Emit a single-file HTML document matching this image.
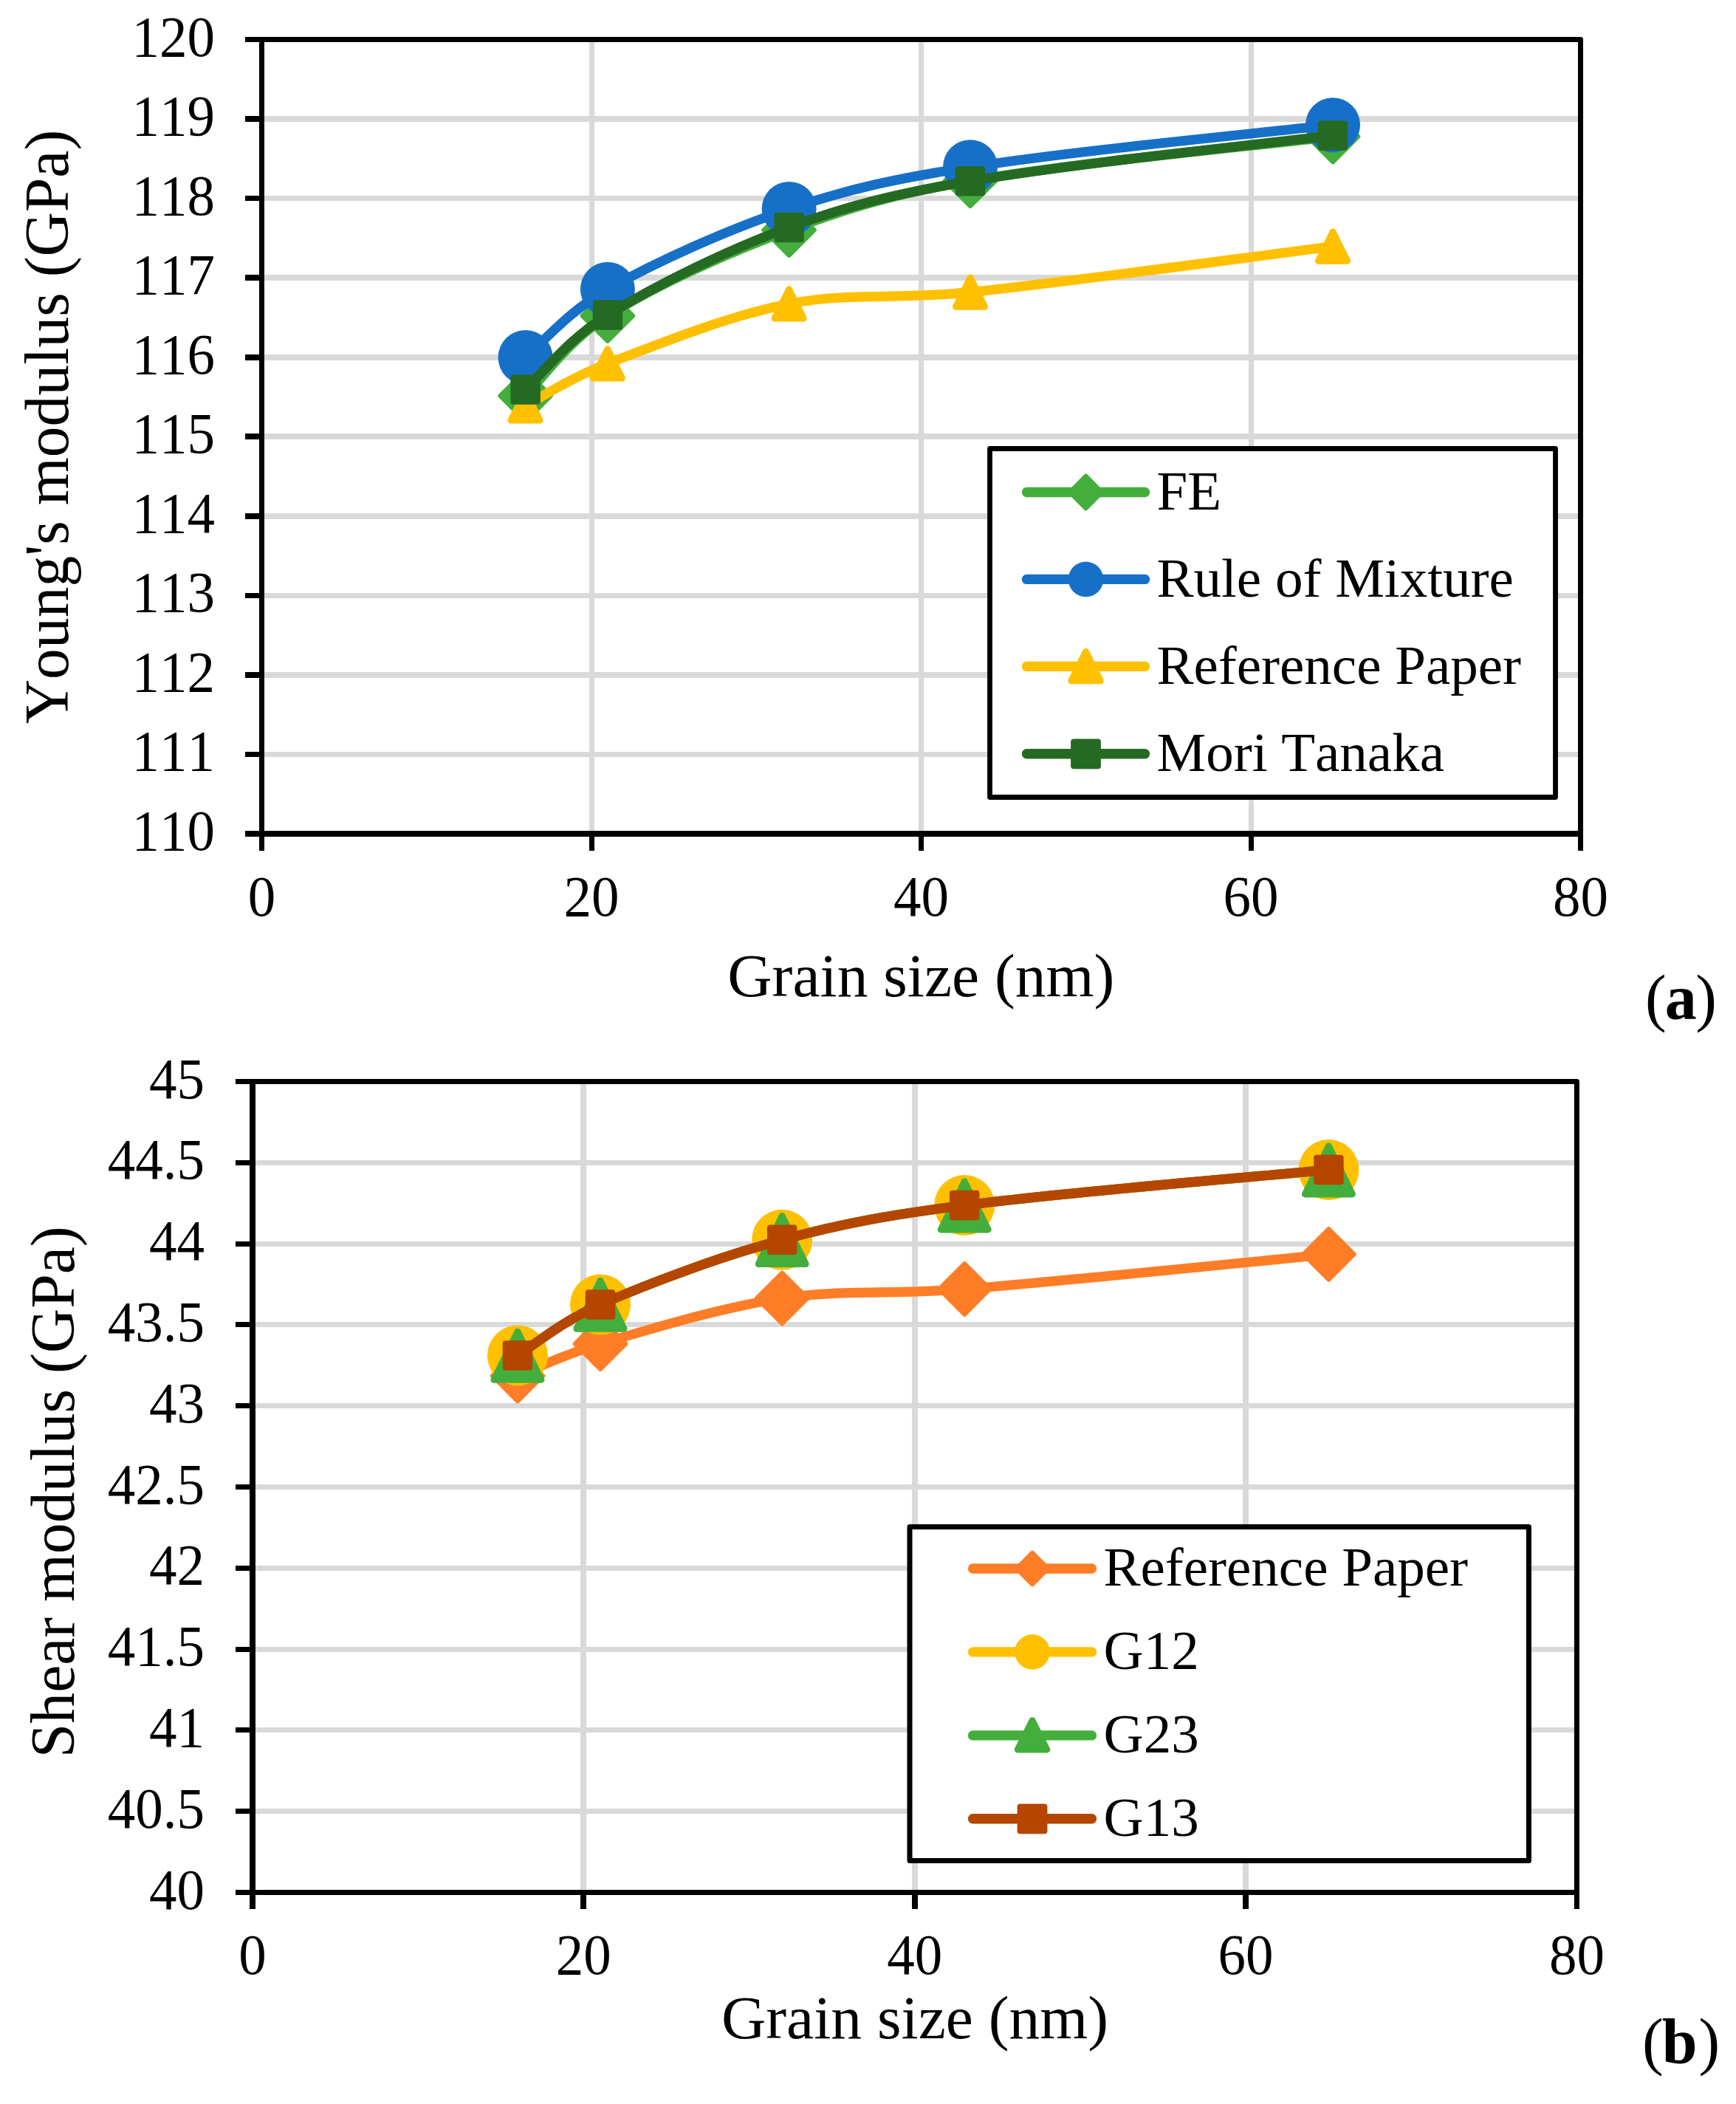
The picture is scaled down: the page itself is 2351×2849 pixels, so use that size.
<!DOCTYPE html>
<html lang="en">
<head>
<meta charset="utf-8">
<title>Elastic moduli vs grain size</title>
<style>
html,body{margin:0;padding:0;background:#fff;}
body{width:2351px;height:2849px;overflow:hidden;}
svg{display:block;}
svg text{font-family:'Liberation Serif', 'Times New Roman', serif;fill:#000;font-kerning:none;font-variant-ligatures:none;}
</style>
</head>
<body>
<svg width="2351" height="2849" viewBox="0 0 2351 2849">
<rect width="2351" height="2849" fill="#fff"/>
<!-- chart (a) -->
<g stroke="#D9D9D9" shape-rendering="crispEdges">
<line x1="354.50" y1="161.05" x2="2140.50" y2="161.05" stroke-width="7.60"/>
<line x1="354.50" y1="268.60" x2="2140.50" y2="268.60" stroke-width="7.60"/>
<line x1="354.50" y1="376.15" x2="2140.50" y2="376.15" stroke-width="7.60"/>
<line x1="354.50" y1="483.70" x2="2140.50" y2="483.70" stroke-width="7.60"/>
<line x1="354.50" y1="591.25" x2="2140.50" y2="591.25" stroke-width="7.60"/>
<line x1="354.50" y1="698.80" x2="2140.50" y2="698.80" stroke-width="7.60"/>
<line x1="354.50" y1="806.35" x2="2140.50" y2="806.35" stroke-width="7.60"/>
<line x1="354.50" y1="913.90" x2="2140.50" y2="913.90" stroke-width="7.60"/>
<line x1="354.50" y1="1021.45" x2="2140.50" y2="1021.45" stroke-width="7.60"/>
<line x1="801.00" y1="53.50" x2="801.00" y2="1129.00" stroke-width="7.00"/>
<line x1="1247.50" y1="53.50" x2="1247.50" y2="1129.00" stroke-width="7.00"/>
<line x1="1694.00" y1="53.50" x2="1694.00" y2="1129.00" stroke-width="7.00"/>
</g>
<g stroke="#000" shape-rendering="crispEdges">
<polyline points="351.00,53.50 2140.50,53.50 2140.50,1152.00" fill="none" stroke-width="7.00" stroke-linejoin="round" shape-rendering="geometricPrecision"/>
<line x1="354.50" y1="53.50" x2="354.50" y2="1152.00" stroke-width="7.00"/>
<line x1="332.00" y1="1129.00" x2="2140.50" y2="1129.00" stroke-width="8.00"/>
<line x1="332.00" y1="53.50" x2="354.50" y2="53.50" stroke-width="7.00"/>
<line x1="332.00" y1="161.05" x2="354.50" y2="161.05" stroke-width="7.60"/>
<line x1="332.00" y1="268.60" x2="354.50" y2="268.60" stroke-width="7.60"/>
<line x1="332.00" y1="376.15" x2="354.50" y2="376.15" stroke-width="7.60"/>
<line x1="332.00" y1="483.70" x2="354.50" y2="483.70" stroke-width="7.60"/>
<line x1="332.00" y1="591.25" x2="354.50" y2="591.25" stroke-width="7.60"/>
<line x1="332.00" y1="698.80" x2="354.50" y2="698.80" stroke-width="7.60"/>
<line x1="332.00" y1="806.35" x2="354.50" y2="806.35" stroke-width="7.60"/>
<line x1="332.00" y1="913.90" x2="354.50" y2="913.90" stroke-width="7.60"/>
<line x1="332.00" y1="1021.45" x2="354.50" y2="1021.45" stroke-width="7.60"/>
<line x1="801.00" y1="1129.00" x2="801.00" y2="1152.00" stroke-width="7.00"/>
<line x1="1247.50" y1="1129.00" x2="1247.50" y2="1152.00" stroke-width="7.00"/>
<line x1="1694.00" y1="1129.00" x2="1694.00" y2="1152.00" stroke-width="7.00"/>
</g>
<g>
<path d="M711.60 536.00 C740.24 505.19 772.15 459.51 822.90 427.60 C890.02 385.39 985.40 342.47 1068.60 311.50 C1149.08 281.54 1212.86 262.17 1314.00 244.80 C1455.06 220.57 1664.84 200.89 1805.00 185.00" fill="none" stroke="#44AE3C" stroke-width="13.2" stroke-linecap="round" stroke-linejoin="round"/>
<polygon points="711.60,501.70 745.90,536.00 711.60,570.30 677.30,536.00" fill="#44AE3C" stroke="#44AE3C" stroke-width="6.0" stroke-linejoin="round"/>
<polygon points="822.90,393.30 857.20,427.60 822.90,461.90 788.60,427.60" fill="#44AE3C" stroke="#44AE3C" stroke-width="6.0" stroke-linejoin="round"/>
<polygon points="1068.60,277.20 1102.90,311.50 1068.60,345.80 1034.30,311.50" fill="#44AE3C" stroke="#44AE3C" stroke-width="6.0" stroke-linejoin="round"/>
<polygon points="1314.00,210.50 1348.30,244.80 1314.00,279.10 1279.70,244.80" fill="#44AE3C" stroke="#44AE3C" stroke-width="6.0" stroke-linejoin="round"/>
<polygon points="1805.00,150.70 1839.30,185.00 1805.00,219.30 1770.70,185.00" fill="#44AE3C" stroke="#44AE3C" stroke-width="6.0" stroke-linejoin="round"/>
<path d="M711.60 484.00 C740.40 457.90 773.13 419.72 822.90 391.70 C890.75 353.50 985.44 311.02 1068.60 283.00 C1149.12 255.86 1213.15 241.78 1314.00 226.20 C1455.27 204.37 1664.88 184.56 1805.00 169.20" fill="none" stroke="#1770C8" stroke-width="13.2" stroke-linecap="round" stroke-linejoin="round"/>
<circle cx="711.60" cy="484.00" r="37.00" fill="#1770C8"/>
<circle cx="822.90" cy="391.70" r="37.00" fill="#1770C8"/>
<circle cx="1068.60" cy="283.00" r="37.00" fill="#1770C8"/>
<circle cx="1314.00" cy="226.20" r="37.00" fill="#1770C8"/>
<circle cx="1805.00" cy="169.20" r="37.00" fill="#1770C8"/>
<path d="M711.60 549.40 C740.69 533.49 774.87 510.97 822.90 492.40 C891.99 465.69 985.72 427.74 1068.60 411.40 C1149.41 395.47 1214.00 406.17 1314.00 395.60 C1455.87 380.61 1664.98 351.77 1805.00 333.60" fill="none" stroke="#FFC000" stroke-width="13.2" stroke-linecap="round" stroke-linejoin="round"/>
<polygon points="711.60,529.70 731.10,569.10 692.10,569.10" fill="#FFC000" stroke="#FFC000" stroke-width="9.0" stroke-linejoin="round"/>
<polygon points="822.90,472.70 842.40,512.10 803.40,512.10" fill="#FFC000" stroke="#FFC000" stroke-width="9.0" stroke-linejoin="round"/>
<polygon points="1068.60,391.70 1088.10,431.10 1049.10,431.10" fill="#FFC000" stroke="#FFC000" stroke-width="9.0" stroke-linejoin="round"/>
<polygon points="1314.00,375.90 1333.50,415.30 1294.50,415.30" fill="#FFC000" stroke="#FFC000" stroke-width="9.0" stroke-linejoin="round"/>
<polygon points="1805.00,313.90 1824.50,353.30 1785.50,353.30" fill="#FFC000" stroke="#FFC000" stroke-width="9.0" stroke-linejoin="round"/>
<path d="M711.60 527.40 C740.34 498.91 772.76 457.33 822.90 426.50 C890.47 384.95 985.24 338.66 1068.60 307.90 C1148.91 278.27 1213.01 262.36 1314.00 245.30 C1455.17 221.45 1664.86 200.13 1805.00 183.50" fill="none" stroke="#256A23" stroke-width="13.2" stroke-linecap="round" stroke-linejoin="round"/>
<rect x="691.35" y="507.15" width="40.50" height="40.50" rx="4.0" fill="#256A23"/>
<rect x="802.65" y="406.25" width="40.50" height="40.50" rx="4.0" fill="#256A23"/>
<rect x="1048.35" y="287.65" width="40.50" height="40.50" rx="4.0" fill="#256A23"/>
<rect x="1293.75" y="225.05" width="40.50" height="40.50" rx="4.0" fill="#256A23"/>
<rect x="1784.75" y="163.25" width="40.50" height="40.50" rx="4.0" fill="#256A23"/>
</g>
<g>
<text transform="translate(291.00 75.50) scale(1 1.045)" font-size="75.00" text-anchor="end" >120</text>
<text transform="translate(291.00 183.05) scale(1 1.045)" font-size="75.00" text-anchor="end" >119</text>
<text transform="translate(291.00 290.60) scale(1 1.045)" font-size="75.00" text-anchor="end" >118</text>
<text transform="translate(291.00 398.15) scale(1 1.045)" font-size="75.00" text-anchor="end" >117</text>
<text transform="translate(291.00 505.70) scale(1 1.045)" font-size="75.00" text-anchor="end" >116</text>
<text transform="translate(291.00 613.25) scale(1 1.045)" font-size="75.00" text-anchor="end" >115</text>
<text transform="translate(291.00 720.80) scale(1 1.045)" font-size="75.00" text-anchor="end" >114</text>
<text transform="translate(291.00 828.35) scale(1 1.045)" font-size="75.00" text-anchor="end" >113</text>
<text transform="translate(291.00 935.90) scale(1 1.045)" font-size="75.00" text-anchor="end" >112</text>
<text transform="translate(291.00 1043.45) scale(1 1.045)" font-size="75.00" text-anchor="end" >111</text>
<text transform="translate(291.00 1151.00) scale(1 1.045)" font-size="75.00" text-anchor="end" >110</text>
<text transform="translate(354.50 1239.70) scale(1 1.045)" font-size="75.00" text-anchor="middle" >0</text>
<text transform="translate(801.00 1239.70) scale(1 1.045)" font-size="75.00" text-anchor="middle" >20</text>
<text transform="translate(1247.50 1239.70) scale(1 1.045)" font-size="75.00" text-anchor="middle" >40</text>
<text transform="translate(1694.00 1239.70) scale(1 1.045)" font-size="75.00" text-anchor="middle" >60</text>
<text transform="translate(2140.50 1239.70) scale(1 1.045)" font-size="75.00" text-anchor="middle" >80</text>
</g>
<text x="1247.30" y="1348.50" font-size="83.50" text-anchor="middle" >Grain size (nm)</text>
<text transform="translate(92.2 578) rotate(-90)" font-size="83.6" text-anchor="middle">Young's modulus (GPa)</text>
<text x="2228" y="1379.8" font-size="86">(<tspan font-weight="bold" dx="-2">a</tspan><tspan dx="-1.5">)</tspan></text>
<rect x="1340.50" y="607.50" width="766.00" height="472.00" fill="#fff" stroke="#000" stroke-width="6.80" stroke-linejoin="round"/>
<line x1="1390.50" y1="666.50" x2="1550.50" y2="666.50" stroke="#44AE3C" stroke-width="13.4" stroke-linecap="round"/>
<polygon points="1470.50,644.70 1492.30,666.50 1470.50,688.30 1448.70,666.50" fill="#44AE3C" stroke="#44AE3C" stroke-width="6.0" stroke-linejoin="round"/>
<text x="1566.50" y="689.70" font-size="75.00" text-anchor="start" >FE</text>
<line x1="1390.50" y1="784.40" x2="1550.50" y2="784.40" stroke="#1770C8" stroke-width="13.4" stroke-linecap="round"/>
<circle cx="1470.50" cy="784.40" r="23.80" fill="#1770C8"/>
<text x="1566.50" y="807.60" font-size="75.00" text-anchor="start" >Rule of Mixture</text>
<line x1="1390.50" y1="902.40" x2="1550.50" y2="902.40" stroke="#FFC000" stroke-width="13.4" stroke-linecap="round"/>
<polygon points="1470.50,882.40 1490.25,921.80 1450.75,921.80" fill="#FFC000" stroke="#FFC000" stroke-width="9.0" stroke-linejoin="round"/>
<text x="1566.50" y="925.60" font-size="75.00" text-anchor="start" >Reference Paper</text>
<line x1="1390.50" y1="1020.80" x2="1550.50" y2="1020.80" stroke="#256A23" stroke-width="13.4" stroke-linecap="round"/>
<rect x="1450.10" y="1000.40" width="40.80" height="40.80" rx="4.0" fill="#256A23"/>
<text x="1566.50" y="1044.00" font-size="75.00" text-anchor="start" >Mori Tanaka</text>
<!-- chart (b) -->
<g stroke="#D9D9D9" shape-rendering="crispEdges">
<line x1="342.00" y1="1574.31" x2="2135.40" y2="1574.31" stroke-width="7.00"/>
<line x1="342.00" y1="1684.12" x2="2135.40" y2="1684.12" stroke-width="7.00"/>
<line x1="342.00" y1="1793.93" x2="2135.40" y2="1793.93" stroke-width="7.00"/>
<line x1="342.00" y1="1903.74" x2="2135.40" y2="1903.74" stroke-width="7.00"/>
<line x1="342.00" y1="2013.55" x2="2135.40" y2="2013.55" stroke-width="7.00"/>
<line x1="342.00" y1="2123.36" x2="2135.40" y2="2123.36" stroke-width="7.00"/>
<line x1="342.00" y1="2233.17" x2="2135.40" y2="2233.17" stroke-width="7.00"/>
<line x1="342.00" y1="2342.98" x2="2135.40" y2="2342.98" stroke-width="7.00"/>
<line x1="342.00" y1="2452.79" x2="2135.40" y2="2452.79" stroke-width="7.00"/>
<line x1="790.35" y1="1464.50" x2="790.35" y2="2562.60" stroke-width="7.80"/>
<line x1="1238.70" y1="1464.50" x2="1238.70" y2="2562.60" stroke-width="7.80"/>
<line x1="1687.05" y1="1464.50" x2="1687.05" y2="2562.60" stroke-width="7.80"/>
</g>
<g stroke="#000" shape-rendering="crispEdges">
<polyline points="338.00,1464.50 2135.40,1464.50 2135.40,2585.10" fill="none" stroke-width="7.00" stroke-linejoin="round" shape-rendering="geometricPrecision"/>
<line x1="342.00" y1="1464.50" x2="342.00" y2="2585.10" stroke-width="8.00"/>
<line x1="319.00" y1="2562.60" x2="2135.40" y2="2562.60" stroke-width="7.00"/>
<line x1="319.00" y1="1464.50" x2="342.00" y2="1464.50" stroke-width="7.00"/>
<line x1="319.00" y1="1574.31" x2="342.00" y2="1574.31" stroke-width="7.00"/>
<line x1="319.00" y1="1684.12" x2="342.00" y2="1684.12" stroke-width="7.00"/>
<line x1="319.00" y1="1793.93" x2="342.00" y2="1793.93" stroke-width="7.00"/>
<line x1="319.00" y1="1903.74" x2="342.00" y2="1903.74" stroke-width="7.00"/>
<line x1="319.00" y1="2013.55" x2="342.00" y2="2013.55" stroke-width="7.00"/>
<line x1="319.00" y1="2123.36" x2="342.00" y2="2123.36" stroke-width="7.00"/>
<line x1="319.00" y1="2233.17" x2="342.00" y2="2233.17" stroke-width="7.00"/>
<line x1="319.00" y1="2342.98" x2="342.00" y2="2342.98" stroke-width="7.00"/>
<line x1="319.00" y1="2452.79" x2="342.00" y2="2452.79" stroke-width="7.00"/>
<line x1="790.35" y1="2562.60" x2="790.35" y2="2585.10" stroke-width="8.00"/>
<line x1="1238.70" y1="2562.60" x2="1238.70" y2="2585.10" stroke-width="8.00"/>
<line x1="1687.05" y1="2562.60" x2="1687.05" y2="2585.10" stroke-width="8.00"/>
</g>
<g>
<path d="M701.00 1863.00 C730.36 1850.91 765.16 1833.74 813.00 1819.70 C882.56 1799.29 976.47 1770.35 1059.20 1757.90 C1140.86 1745.61 1205.53 1753.59 1306.20 1745.50 C1448.69 1734.05 1658.75 1712.19 1799.40 1698.40" fill="none" stroke="#FF7D27" stroke-width="13.2" stroke-linecap="round" stroke-linejoin="round"/>
<polygon points="701.00,1828.70 735.30,1863.00 701.00,1897.30 666.70,1863.00" fill="#FF7D27" stroke="#FF7D27" stroke-width="6.0" stroke-linejoin="round"/>
<polygon points="813.00,1785.40 847.30,1819.70 813.00,1854.00 778.70,1819.70" fill="#FF7D27" stroke="#FF7D27" stroke-width="6.0" stroke-linejoin="round"/>
<polygon points="1059.20,1723.60 1093.50,1757.90 1059.20,1792.20 1024.90,1757.90" fill="#FF7D27" stroke="#FF7D27" stroke-width="6.0" stroke-linejoin="round"/>
<polygon points="1306.20,1711.20 1340.50,1745.50 1306.20,1779.80 1271.90,1745.50" fill="#FF7D27" stroke="#FF7D27" stroke-width="6.0" stroke-linejoin="round"/>
<polygon points="1799.40,1664.10 1833.70,1698.40 1799.40,1732.70 1765.10,1698.40" fill="#FF7D27" stroke="#FF7D27" stroke-width="6.0" stroke-linejoin="round"/>
<path d="M701.00 1835.40 C730.19 1815.99 764.15 1787.85 813.00 1766.50 C881.86 1736.39 976.20 1701.42 1059.20 1678.80 C1140.60 1656.62 1204.99 1645.05 1306.20 1632.10 C1448.31 1613.92 1658.68 1597.07 1799.40 1584.10" fill="none" stroke="#FFC000" stroke-width="13.2" stroke-linecap="round" stroke-linejoin="round"/>
<circle cx="701.00" cy="1835.40" r="41.00" fill="#FFC000"/>
<circle cx="813.00" cy="1766.50" r="41.00" fill="#FFC000"/>
<circle cx="1059.20" cy="1678.80" r="41.00" fill="#FFC000"/>
<circle cx="1306.20" cy="1632.10" r="41.00" fill="#FFC000"/>
<circle cx="1799.40" cy="1584.10" r="41.00" fill="#FFC000"/>
<path d="M701.00 1835.40 C730.19 1815.99 764.15 1787.85 813.00 1766.50 C881.86 1736.39 976.20 1701.42 1059.20 1678.80 C1140.60 1656.62 1204.99 1645.05 1306.20 1632.10 C1448.31 1613.92 1658.68 1597.07 1799.40 1584.10" fill="none" stroke="#44AE3C" stroke-width="13.2" stroke-linecap="round" stroke-linejoin="round"/>
<polygon points="701.00,1803.20 733.00,1868.20 669.00,1868.20" fill="#44AE3C" stroke="#44AE3C" stroke-width="9.0" stroke-linejoin="round"/>
<polygon points="813.00,1734.30 845.00,1799.30 781.00,1799.30" fill="#44AE3C" stroke="#44AE3C" stroke-width="9.0" stroke-linejoin="round"/>
<polygon points="1059.20,1646.60 1091.20,1711.60 1027.20,1711.60" fill="#44AE3C" stroke="#44AE3C" stroke-width="9.0" stroke-linejoin="round"/>
<polygon points="1306.20,1599.90 1338.20,1664.90 1274.20,1664.90" fill="#44AE3C" stroke="#44AE3C" stroke-width="9.0" stroke-linejoin="round"/>
<polygon points="1799.40,1551.90 1831.40,1616.90 1767.40,1616.90" fill="#44AE3C" stroke="#44AE3C" stroke-width="9.0" stroke-linejoin="round"/>
<path d="M701.00 1835.40 C730.19 1815.99 764.15 1787.85 813.00 1766.50 C881.86 1736.39 976.20 1701.42 1059.20 1678.80 C1140.60 1656.62 1204.99 1645.05 1306.20 1632.10 C1448.31 1613.92 1658.68 1597.07 1799.40 1584.10" fill="none" stroke="#B54600" stroke-width="13.2" stroke-linecap="round" stroke-linejoin="round"/>
<rect x="680.75" y="1815.15" width="40.50" height="40.50" rx="4.0" fill="#B54600"/>
<rect x="792.75" y="1746.25" width="40.50" height="40.50" rx="4.0" fill="#B54600"/>
<rect x="1038.95" y="1658.55" width="40.50" height="40.50" rx="4.0" fill="#B54600"/>
<rect x="1285.95" y="1611.85" width="40.50" height="40.50" rx="4.0" fill="#B54600"/>
<rect x="1779.15" y="1563.85" width="40.50" height="40.50" rx="4.0" fill="#B54600"/>
</g>
<g>
<text transform="translate(277.00 1486.50) scale(1 1.045)" font-size="75.00" text-anchor="end" >45</text>
<text transform="translate(277.00 1596.31) scale(1 1.045)" font-size="75.00" text-anchor="end" >44.5</text>
<text transform="translate(277.00 1706.12) scale(1 1.045)" font-size="75.00" text-anchor="end" >44</text>
<text transform="translate(277.00 1815.93) scale(1 1.045)" font-size="75.00" text-anchor="end" >43.5</text>
<text transform="translate(277.00 1925.74) scale(1 1.045)" font-size="75.00" text-anchor="end" >43</text>
<text transform="translate(277.00 2035.55) scale(1 1.045)" font-size="75.00" text-anchor="end" >42.5</text>
<text transform="translate(277.00 2145.36) scale(1 1.045)" font-size="75.00" text-anchor="end" >42</text>
<text transform="translate(277.00 2255.17) scale(1 1.045)" font-size="75.00" text-anchor="end" >41.5</text>
<text transform="translate(277.00 2364.98) scale(1 1.045)" font-size="75.00" text-anchor="end" >41</text>
<text transform="translate(277.00 2474.79) scale(1 1.045)" font-size="75.00" text-anchor="end" >40.5</text>
<text transform="translate(277.00 2584.60) scale(1 1.045)" font-size="75.00" text-anchor="end" >40</text>
<text transform="translate(342.00 2672.80) scale(1 1.045)" font-size="75.00" text-anchor="middle" >0</text>
<text transform="translate(790.35 2672.80) scale(1 1.045)" font-size="75.00" text-anchor="middle" >20</text>
<text transform="translate(1238.70 2672.80) scale(1 1.045)" font-size="75.00" text-anchor="middle" >40</text>
<text transform="translate(1687.05 2672.80) scale(1 1.045)" font-size="75.00" text-anchor="middle" >60</text>
<text transform="translate(2135.40 2672.80) scale(1 1.045)" font-size="75.00" text-anchor="middle" >80</text>
</g>
<text x="1239.00" y="2760.40" font-size="83.50" text-anchor="middle" >Grain size (nm)</text>
<text transform="translate(100 2020.3) rotate(-90)" font-size="83.6" text-anchor="middle">Shear modulus (GPa)</text>
<text x="2224" y="2792.8" font-size="86">(<tspan font-weight="bold" dx="-2">b</tspan><tspan dx="2">)</tspan></text>
<rect x="1232.00" y="2067.50" width="838.40" height="452.00" fill="#fff" stroke="#000" stroke-width="7.00" stroke-linejoin="round"/>
<line x1="1317.50" y1="2124.00" x2="1478.50" y2="2124.00" stroke="#FF7D27" stroke-width="13.4" stroke-linecap="round"/>
<polygon points="1398.00,2102.70 1419.30,2124.00 1398.00,2145.30 1376.70,2124.00" fill="#FF7D27" stroke="#FF7D27" stroke-width="6.0" stroke-linejoin="round"/>
<text x="1494.50" y="2147.20" font-size="75.00" text-anchor="start" >Reference Paper</text>
<line x1="1317.50" y1="2236.90" x2="1478.50" y2="2236.90" stroke="#FFC000" stroke-width="13.4" stroke-linecap="round"/>
<circle cx="1398.00" cy="2236.90" r="23.80" fill="#FFC000"/>
<text x="1494.50" y="2260.10" font-size="75.00" text-anchor="start" >G12</text>
<line x1="1317.50" y1="2349.90" x2="1478.50" y2="2349.90" stroke="#44AE3C" stroke-width="13.4" stroke-linecap="round"/>
<polygon points="1398.00,2329.70 1417.75,2369.10 1378.25,2369.10" fill="#44AE3C" stroke="#44AE3C" stroke-width="9.0" stroke-linejoin="round"/>
<text x="1494.50" y="2373.10" font-size="75.00" text-anchor="start" >G23</text>
<line x1="1317.50" y1="2462.80" x2="1478.50" y2="2462.80" stroke="#B54600" stroke-width="13.4" stroke-linecap="round"/>
<rect x="1377.60" y="2442.40" width="40.80" height="40.80" rx="4.0" fill="#B54600"/>
<text x="1494.50" y="2486.00" font-size="75.00" text-anchor="start" >G13</text>
</svg>
</body>
</html>
